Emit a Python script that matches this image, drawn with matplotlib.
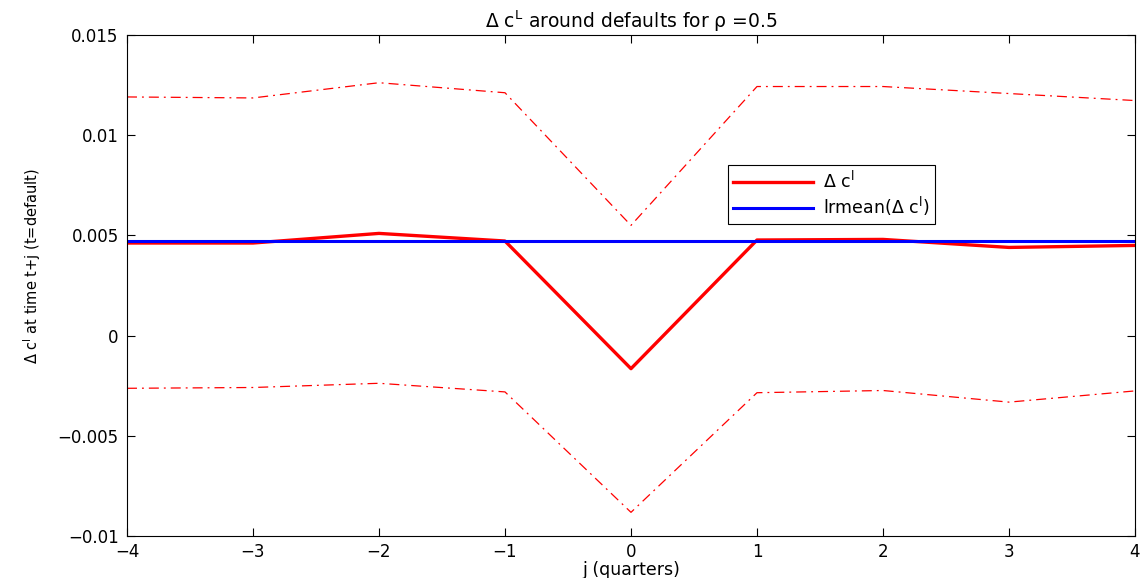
import numpy as np
import matplotlib
matplotlib.use("Agg")
import matplotlib.pyplot as plt

plt.rcParams["font.family"] = ["DejaVu Sans"]
plt.rcParams["mathtext.fontset"] = "dejavusans"

# quarters around default
j = [-4, -3, -2, -1, 0, 1, 2, 3, 4]
dc = [0.00462, 0.00462, 0.00510, 0.00472, -0.00165, 0.00477, 0.00480, 0.00440, 0.00450]
upper = [0.01191, 0.01186, 0.01262, 0.01212, 0.00550, 0.01243, 0.01243, 0.01208, 0.01173]
lower = [-0.00263, -0.00259, -0.00238, -0.00281, -0.00882, -0.00285, -0.00274, -0.00332, -0.00276]
lrmean = 0.00470

yticks = [-0.01, -0.005, 0, 0.005, 0.01, 0.015]
ytick_labels = ["\u22120.01", "\u22120.005", "0", "0.005", "0.01", "0.015"]
xticks = [-4, -3, -2, -1, 0, 1, 2, 3, 4]
xtick_labels = ["\u22124", "\u22123", "\u22122", "\u22121", "0", "1", "2", "3", "4"]

fig = plt.figure(figsize=(11.46, 5.78), dpi=100)
ax = fig.add_axes([0.1108, 0.0727, 0.8796, 0.8667])

ax.plot(j, dc, color="#ff0000", linewidth=2.4, label="\u0394 c$^{\\mathrm{l}}$")
ax.plot(j, [lrmean] * len(j), color="#0000ff", linewidth=2.2,
        label="lrmean(\u0394 c$^{\\mathrm{l}}$)")
ax.plot(j, upper, color="#ff0000", linewidth=0.9, linestyle=(0, (8, 4, 1.5, 4)))
ax.plot(j, lower, color="#ff0000", linewidth=0.9, linestyle=(0, (8, 4, 1.5, 4)))

ax.set_xlim(-4, 4)
ax.set_ylim(-0.01, 0.015)
ax.set_xticks(xticks)
ax.set_xticklabels(xtick_labels)
ax.set_yticks(yticks)
ax.set_yticklabels(ytick_labels)
ax.tick_params(direction="in", top=True, right=True, labelsize=12, length=6, width=0.8)
ax.tick_params(axis="x", pad=5)
ax.tick_params(axis="y", pad=6)
for s in ax.spines.values():
    s.set_linewidth(0.8)

ax.set_title("\u0394 c$^{\\mathrm{L}}$ around defaults for \u03c1 =0.5", fontsize=13.5, pad=5)
ax.set_xlabel("j (quarters)", fontsize=12.5, labelpad=0)
ax.set_ylabel("\u0394 c$^{\\mathrm{l}}$ at time t+j (t=default)", fontsize=10.5)
ax.yaxis.set_label_coords(-0.083, 0.54)

leg = ax.legend(loc="upper left", bbox_to_anchor=(0.596, 0.740), fontsize=12.5,
                fancybox=False, edgecolor="black", framealpha=1, handlelength=4.6,
                borderpad=0.3, labelspacing=0.2, handletextpad=0.6, borderaxespad=0)
leg.get_frame().set_linewidth(0.8)

fig.savefig("out.png", dpi=100)
